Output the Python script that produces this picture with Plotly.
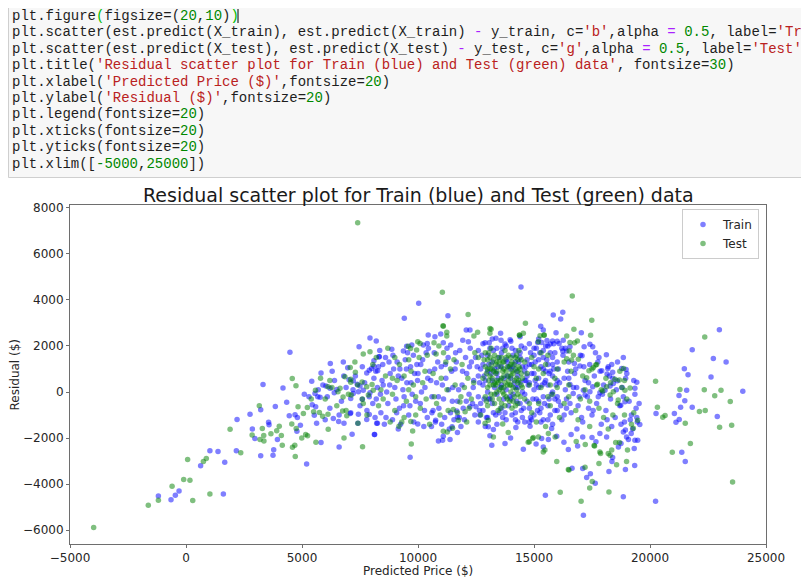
import plotly.graph_objects as go

# ---------------- data (predicted price, residual) ----------------
train_points = [
    # left tail
    (-1190,-4510),(-646,-4670),(-460,-4480),(-300,-4300),(630,-3200),(1030,-2550),(1380,-2580),
    (1670,-3045),(2170,-2550),(1610,-4420),(2200,-1190),(2760,-960),(3220,-770),(3850,-630),
    (4340,-440),(2860,-1600),(2970,-2020),(3560,-1310),(3580,-1420),(3940,-2060),(3780,-2500),
    (3220,-2770),(3750,-2740),(5200,-3120),(4450,-1030),(4700,-990),(4930,-1440),(4780,-1700),
    (4800,-1100),(5440,-550),(5590,-640),(5530,-1010),(5630,-1360),(5820,-2190),(6600,-2380),
    (7160,-1830),(8120,-1840),(8220,-1360),(6350,-1150),(6580,-1280),(6810,-1360),(7080,-930),
    (7430,-960),(7410,-1350),(7790,-1190),(7900,-970),
    # upper left
    (4480,1730),(3320,330),(4180,180),(5420,470),(5820,830),(6220,1240),(6030,260),(6210,160),
    (6500,110),(5560,-60),(5680,-210),(5780,-230),(6090,-210),(6390,-30),(6780,1300),(7460,1960),
    (7930,2350),(8200,2210),(8100,1360),(6970,1050),(7790,830),(7900,950),(8000,1020),(7030,530),
    (7210,490),(7380,340),(7500,260),(7640,80),(7210,-60),(7430,10),(7100,-280),(7600,-310),
    (7930,-30),(8320,1530),(8100,1120),(8260,920),
    # upper middle
    (14440,4560),(10030,3850),(9410,3200),(11290,3310),(10980,2520),(10730,2400),(10440,2470),
    (12080,2690),(12240,2690),(12170,2180),(11930,2250),(11410,2040),(11090,2140),(10400,2110),
    (10230,2040),(9730,2040),(9510,1990),(9370,1780),(8870,1860),(8330,1530),(13560,2550),
    (13070,2140),(12890,2140),(13360,2330),(15290,2860),(15400,2690),(16240,3460),(16150,3170),
    (15950,2570),(16080,2110),(16260,2250),(13580,2250),(13970,2270),(13750,2080),(15560,2240),
    (15800,2210),(15160,2150),(15330,2150),(15700,2090),(15830,3340),
    # upper right
    (17040,2570),(17410,2070),(17530,1960),(17160,1960),(16550,1960),(16410,1780),(16240,1780),
    (18120,1620),(17070,1570),(16740,1240),(16980,1130),(17920,920),(18180,1020),(18390,860),
    (18150,780),(18780,1020),(18970,980),(19430,430),(19350,160),(19530,-500),(18590,490),
    (18420,370),(18280,260),(18060,80),(17840,-30),(17530,230),(17770,-210),(17410,10),
    (17200,-130),(17130,80),(16840,200),(16690,-60),(16550,330),(18920,-420),(18740,-570),
    # right sparse
    (22990,2700),(21820,1830),(22730,1460),(23280,1300),(21480,1010),(21640,750),(22630,650),
    (21580,80),(21250,-150),(24000,30),(21500,-380),(21320,-660),(21820,-660),(20260,-930),
    (21050,-930),(21260,-1190),(21120,-1310),(22900,-1060),(21370,-2610),(21520,-3020),(20240,-4740),
    # lower right
    (18850,-4540),(17130,-5350),(17640,-3960),(17270,-3710),(17430,-3550),(17100,-3320),
    (16640,-3310),(18230,-3450),(18940,-3360),(19340,-3190),(18360,-3010),(18390,-2840),
    (19320,-2450),(19470,-2090),(19350,-2090),(19070,-2060),(16480,-2490),(16290,-2180),
    (16880,-2340),(17100,-1950),(16600,-1840),(18640,-2380),(18750,-2230),(19560,-1410),
    (19430,-1100),(18940,-1650),(18850,-1730),(19190,-1800),(18990,-1950),(17840,-1800),
    (18130,-1950),(17670,-2160),(17500,-1970),(15490,-4480),
    # lower middle
    (9660,-2830),(8130,-1840),(8250,-1360),(9990,-1390),(10600,-900),(10760,-1220),(10880,-2120),
    (11090,-1920),(11380,-2060),(11700,-1760),(11470,-1510),(11670,-820),(11700,-1080),
    (12240,-640),(12500,-640),(12670,-1000),(13180,-2310),(13750,-2230),(13990,-1990),
    (13100,-1900),(13030,-1510),(13250,-1630),(14220,-1540),(14540,-2480),(14830,-1480),
    (15090,-2250),(15400,-2380),(15620,-2060),(15330,-2020),(15980,-1920),(15760,-1580),(11060,-2090),
    # 5000-8000 band
    (5300,-200),(5900,300),(6200,-700),(6400,500),(6700,-400),(6900,200),(7100,-900),(7300,700),
    (7500,-600),(7700,400),(7900,-200),(6000,-1200),(6600,-1000),(7200,100),(7800,-800),
    (5700,100),(6300,900),(7600,1100),(5100,-100),(6800,700),
    # 8000-10000 band
    (8100,600),(8200,-300),(8300,1100),(8400,-900),(8500,300),(8600,1500),(8700,-500),(8800,800),
    (8900,-1200),(9000,200),(9100,1300),(9200,-700),(9300,600),(9400,-200),(9500,1000),(9600,-1000),
    (9700,400),(9800,1600),(9900,-400),(8350,1800),(8650,0),(8950,1000),(9250,-1400),(9550,1700),
    (9850,800),(8150,-1100),(8450,500),(8750,1300),(9050,-300),(9350,100),(9650,-600),(9950,1200),
    (8250,200),(8550,-1400),(9150,700),(9450,1400),(9750,-100),
    (8050,-500),(8180,900),(8380,-100),(8480,1200),(8620,-1100),(8780,300),(8920,1600),(9080,-900),
    (9220,1000),(9380,-600),(9520,400),(9680,1100),(9820,-1300),(9980,500),(9150,-1600),
    # 10000-12500 band
    (10000,800),(10100,-500),(10200,1400),(10300,200),(10400,-1100),(10500,900),(10600,-200),
    (10700,1700),(10800,400),(10900,-700),(11000,1100),(11100,-300),(11200,600),(11300,1500),
    (11400,-900),(11500,200),(11600,1000),(11700,-400),(11800,1800),(11900,300),(12000,-1200),
    (12100,800),(12200,-100),(12300,1300),(12400,500),(10150,0),(10450,1900),(10750,-1300),
    (11050,300),(11350,-1600),(11650,1300),(11950,-700),(12250,1900),(10250,-1500),(10550,500),
    (10850,1300),(11150,-1100),(11450,900),(11750,100),(12050,1500),(12350,-500),(10650,-800),
    (11250,1900),(11850,-1500),(12450,-1000),
    (10120,1200),(10280,-800),(10420,600),(10580,-1500),(10720,1000),(10880,-200),(11020,-1400),
    (11180,1200),(11320,100),(11480,-400),(11620,1700),(11780,-1100),(11920,900),(12080,-400),
    (12220,1100),(12380,200),(12480,1500),(10350,1700),(11550,-1200),
    # 12500-16000 dense band
    (12600,-1300),(12600,-200),(12600,700),(12600,1800),(12800,-800),(12800,300),(12800,1200),
    (12800,2100),(13000,-1100),(13000,0),(13000,900),(13000,1600),(13200,-500),(13200,500),
    (13200,1300),(13200,2300),(13400,-1400),(13400,-100),(13400,800),(13400,1900),(13600,-700),
    (13600,300),(13600,1100),(13600,1700),(13800,-1200),(13800,100),(13800,1400),(13800,2000),
    (14000,-300),(14000,600),(14000,1000),(14000,2200),(14200,-900),(14200,200),(14200,1300),
    (14200,1800),(14400,-500),(14400,400),(14400,1500),(14400,2400),(14600,-1300),(14600,-100),
    (14600,900),(14600,1900),(14800,-700),(14800,400),(14800,1200),(14800,2100),(15000,-1000),
    (15000,100),(15000,800),(15000,1600),(15200,-400),(15200,600),(15200,1400),(15200,2300),
    (15400,-1200),(15400,-200),(15400,1000),(15400,1800),(15600,-600),(15600,300),(15600,1200),
    (15600,2000),(15800,-1400),(15800,0),(15800,700),(15800,1500),(16000,-800),(16000,500),
    (16000,1300),(16000,2200),
    (12700,-500),(12700,1000),(12900,500),(12900,-1500),(13100,1900),(13100,-300),(13300,200),
    (13300,1000),(13500,-900),(13500,1500),(13700,600),(13700,-300),(13900,1100),(13900,-600),
    (14100,1600),(14100,-100),(14300,700),(14300,-1300),(14500,1100),(14500,0),(14700,1400),
    (14700,-400),(14900,-1200),(14900,800),(15100,1900),(15100,300),(15300,-700),(15300,1100),
    (15500,500),(15500,2000),(15700,-1000),(15700,900),(15900,1700),(15900,-300),
    (12650,400),(12850,-300),(13050,1200),(13250,-900),(13450,600),(13650,-1100),(13850,700),
    (14050,-1000),(14250,900),(14450,-800),(14650,500),(14850,-1100),(15050,1300),(15250,-900),
    (15450,400),(15650,-300),(15850,1000),(16050,-400),
    (12550,1100),(12650,-800),(12750,1600),(12850,700),(12950,-1100),(13050,-300),(13150,800),
    (13250,1800),(13350,-1000),(13450,1100),(13550,200),(13650,1900),(13750,-900),(13850,1300),
    (13950,-200),
    (14050,1900),(14150,400),(14250,-400),(14350,1300),(14450,2000),(14550,-700),(14650,1100),
    (14750,300),(14850,1700),(14950,-300),(15050,500),(15150,-800),(15250,1700),(15350,300),
    (15450,-500),(15550,1400),(15650,800),(15750,-100),(15850,2100),(15950,300),(16050,1000),
    (16150,-600),(16250,1600),(16350,100),(16450,900),(14100,1100),(14300,200),(14500,-1100),
    (14700,700),(14900,1200),(15100,-300),(15300,-1300),(15500,900),(15700,1700),(15900,-800),
    (16100,400),(16300,-1000),(16500,600),(14200,-1200),(14400,1700),(14600,500),(14800,-1300),
    (15000,1900),(15200,200),(15400,1500),(15600,-1200),(15800,1200),(16000,-200),(16200,1900),
    (16400,-700),
    # 16000-19500 band
    (16200,-1200),(16300,600),(16400,-300),(16500,1300),(16600,-900),(16700,200),(16800,1000),
    (16900,-600),(17000,1600),(17100,-1300),(17200,500),(17300,-200),(17400,1200),(17500,-1000),
    (17600,700),(17700,-500),(17800,1500),(17900,-1400),(18000,300),(18100,-800),(18200,1100),
    (18300,-300),(18400,600),(18500,-1100),(18600,1300),(18700,-600),(18800,200),(18900,-1300),
    (19000,800),(19100,-400),(19200,-1000),(19300,500),(19400,-700),(16350,1900),(16850,-1600),
    (17350,-700),(17850,900),(18350,-1500),(18850,1500),(19250,-1600),
    (16550,-500),(16750,800),(16950,-200),(17150,1100),(17350,400),(17550,-800),(17750,1300),
    (17950,-100),(18150,-1200),(18350,1200),(18550,100),(18750,-1400),(18950,600),(19150,-1200),
    (19350,-100),(17050,-1100),(17650,1700),(18250,700),(18850,-200),(19450,-1300),
]

test_points = [
    # left tail
    (-3980,-5880),(-1625,-4913),(-1190,-4700),(-600,-4090),(-100,-3800),(170,-3830),(290,-4710),
    (1030,-4420),(70,-2930),(750,-3010),(875,-2885),(2360,-2640),(1900,-1610),(3160,-600),
    (4830,-640),(2850,-1870),(3190,-2060),(3360,-2120),(3350,-1890),(3290,-1580),(3660,-1815),
    (3910,-1685),(4020,-1480),(4110,-1890),(4150,-2310),(4590,-2400),(4690,-2310),(4710,-2800),
    (4560,-1390),(4750,-1580),(4990,-2000),(5160,-1840),(5240,-1900),(5230,-670),(5060,-930),
    (5500,-860),(5750,-890),(5890,-1050),(5600,-2180),(6130,-1610),(6810,-1990),(7610,-2370),
    (6120,-960),(6930,-1030),(6750,-820),(7410,-1350),
    # upper left
    (4580,590),(4740,270),(5580,80),(6120,230),(6290,200),(6640,160),(6550,10),(6770,-220),
    (7280,1300),(7080,1070),(7300,860),(6850,660),(7100,560),(7640,1650),(7100,430),(7590,440),
    (7790,230),(8020,330),(7120,-130),(7860,-130),(8070,80),(7640,-500),(7400,7350),
    # upper middle
    (11050,4330),(12160,3370),(11080,2880),(11240,2590),(11240,2430),(12570,2590),(12410,2430),
    (10690,2140),(10780,1650),(9990,2180),(10090,2110),(9580,1990),(9680,1890),(9940,1820),
    (7930,1750),(13150,2720),(13100,2550),(14630,2980),(14540,2550),(14370,2470),(15440,2470),
    (15190,2180),(16410,2430),(11090,2860),(16720,2720),(17440,2460),(13100,2760),(15260,2440),
    (15430,2460),(14380,2460),(16550,2150),(16650,4170),(17490,3110),
    # upper right
    (16870,2210),(16750,2140),(16520,1780),(16910,1420),(16620,1390),(16410,1440),(17560,1070),
    (17660,1170),(17370,920),(17270,620),(18860,1020),(20240,470),(20320,-660),(18680,520),
    (18490,550),(18780,200),(18920,80),(19140,180),(17740,340),(17960,40),(18130,230),(18420,10),
    (18280,-130),(18630,-350),
    # right sparse
    (22360,2390),(21290,110),(22340,100),(23060,80),(22790,-160),(23460,-410),(22130,-840),
    (22380,-800),(20650,-1020),(20550,-1090),(21520,-1360),(23000,-1530),(23520,-1440),
    (21740,-2230),(20960,-2610),(23560,-3900),
    # lower right
    (18230,-4340),(17030,-4740),(17400,-4170),(17510,-3880),(16510,-3380),(17200,-3260),
    (16130,-4350),(17800,-3100),(18560,-3160),(18990,-3010),(18280,-2740),(17870,-2670),
    (19030,-2520),(16820,-2150),(17210,-2280),(17610,-2340),(18520,-2190),(18680,-2190),
    (19280,-1570),(19470,-1220),(17590,-2320),(17840,-2600),(18200,-2670),(18350,-2520),
    # lower middle
    (9710,-2250),(9180,-1480),(9690,-1280),(9770,-1690),(11090,-1700),(11260,-1730),(11490,-1570),
    (11740,-1220),(11810,-430),(12030,-860),(11520,-760),(13250,-1950),(12890,-1360),(13030,-1220),
    (13650,-1390),(13890,-1760),(14800,-2160),(14970,-1970),(15190,-1950),(15400,-2600),
    (15470,-2520),(15980,-3010),(16480,-3360),(15620,-1800),(15910,-1950),(14750,-2180),(14940,-2020),
    # 5000-8000 band
    (5400,-300),(6000,-300),(6500,-600),(7000,-100),(7400,300),(7800,-1000),(6200,500),(6900,-800),
    (7600,-300),(5800,600),
    # 8000-10000 band
    (8050,1200),(8300,-600),(8600,700),(8900,-100),(9200,1200),(9500,-400),(9800,300),(8400,100),
    (8800,-1300),(9100,500),(9400,-1100),(9700,900),(8200,1500),(9000,-800),(9600,1400),(9900,-200),
    (8700,1900),(9300,-1300),(8500,-300),(9000,1500),(9400,700),(9900,-1000),(8900,600),(9600,100),
    # 10000-12500 band
    (10050,1500),(10350,-300),(10650,800),(10950,-1000),(11250,100),(11550,1400),(11850,-200),
    (12150,600),(12450,1700),(10200,400),(10800,-500),(11400,1000),(12000,200),(10500,-1400),
    (11100,1700),(11700,-900),(12300,-300),(10900,2000),
    (10300,900),(10700,-200),(11000,600),(11300,-800),(11600,300),(11900,1200),(12200,-700),
    (12400,400),(10100,-700),(10400,1600),(11200,1300),(12100,-1300),
    # dense core
    (12800,600),(12900,1100),(13000,200),(13000,1400),(13100,700),(13200,-300),(13200,1000),
    (13300,400),(13300,1600),(13400,900),(13500,100),(13500,1300),(13600,600),(13600,-500),
    (13700,1000),(13700,200),(13800,1500),(13800,-200),(13900,700),(14000,300),(14000,1200),
    (14100,-400),(14100,800),(14200,1500),(14300,400),(14300,-100),(14400,1000),(14500,600),
    (14600,1300),(14600,-300),(13150,1900),(13450,-800),(13750,1800),(14050,-700),(14350,1800),
    (12950,-400),(13350,1200),(13650,1300),(13950,1100),(14250,100),
    (13050,500),(13150,1200),(13250,300),(13350,800),(13450,1500),(13550,500),(13650,900),
    (13750,400),(13850,1100),(13950,300),(14050,900),(14150,1200),(14250,600),(14350,1100),
    (14450,300),(13100,1000),(13400,0),(13700,700),(14000,1500),(14300,900),
    (12850,1400),(12900,-200),(12950,800),(13000,-600),(13050,1700),(13100,300),(13150,-100),
    (13200,600),(13250,1400),(13300,-500),(13350,300),(13400,1300),(13450,400),(13500,-300),
    (13550,1100),(13600,1500),(13650,0),(13700,1300),(13750,-600),(13800,900),(13850,300),
    (13900,1600),(13950,-400),(14000,700),(14050,1300),(14100,200),(14150,-200),(14200,1000),
    (14250,1600),(14300,-500),(14350,500),(14400,-200),(14450,1400),(14500,200),(12900,1700),
    (13250,900),(13550,-700),(13850,-300),(14150,500),(14450,800),(13000,1000),(13300,-100),
    (13600,200),(13900,500),(14200,-600),(13100,1500),(13400,500),(13700,-100),(14000,0),(14300,1400),
    (14800,300),(15000,1100),(15200,-500),(15400,800),(15600,1600),(15800,-100),(16000,1000),
    (14900,-900),(15300,1700),(15700,300),(12600,1500),(12700,-1000),(15100,-1300),(15500,-1500),
    (14700,800),(14900,1500),(15100,600),(15300,200),(15500,1200),(15700,-600),(15900,600),
    (16100,-1100),(16300,1300),(16500,-200),(14800,-500),(15200,1000),(15600,-200),(16000,200),
    # 16000-19500 band
    (16300,-500),(16600,900),(16900,-1200),(17200,100),(17500,1000),(17800,-700),(18100,600),
    (18400,-1000),(18700,900),(19000,-300),(19300,-900),(16500,300),(17000,-300),(17700,300),
    (18200,-1600),(18900,-1000),(17400,-1500),(16700,1600),
    (16800,-800),(17100,700),(17400,-400),(17700,1200),(18000,-1100),(18300,400),(18600,-500),
    (18900,500),(19200,-1400),(17900,100),
]

series_names = ["Train", "Test"]
series_colors = ["#0000ff", "#008000"]

x_ticks = [-5000, 0, 5000, 10000, 15000, 20000, 25000]
x_tick_text = ["\u22125000", "0", "5000", "10000", "15000", "20000", "25000"]
y_ticks = [-6000, -4000, -2000, 0, 2000, 4000, 6000, 8000]
y_tick_text = ["\u22126000", "\u22124000", "\u22122000", "0", "2000", "4000", "6000", "8000"]

title_text = "Residual scatter plot for Train (blue) and Test (green) data"
x_label = "Predicted Price ($)"
y_label = "Residual ($)"

# ---------------- layout helpers ----------------
# The page body has an 8px margin, so the figure is drawn 8px smaller and
# every page-pixel position is converted to paper coordinates of the plot area.
OFF = 8
W, H = 809 - OFF, 577 - OFF
L, R, T, B = 70, 766, 205, 544          # plot-area edges in page pixels


def PX(px):
    return (px - L) / (R - L)


def PY(py):
    return (B - py) / (B - T)


fig = go.Figure()
for name, pts, col in zip(series_names, [train_points, test_points], series_colors):
    fig.add_trace(go.Scatter(
        x=[p[0] for p in pts], y=[p[1] for p in pts], mode="markers", name=name,
        marker=dict(color=col, size=5.5, opacity=0.5, line=dict(width=0)),
    ))

axis_common = dict(showline=True, linecolor="#6e6e6e", linewidth=1, mirror=True,
                   ticks="outside", ticklen=3, tickcolor="#6e6e6e", showgrid=False,
                   zeroline=False, tickfont=dict(family="DejaVu Sans", size=12, color="#262626"))

fig.update_xaxes(range=[-5000, 25000], tickvals=x_ticks, ticktext=x_tick_text, **axis_common)
fig.update_yaxes(range=[-6595, 8117], tickvals=y_ticks, ticktext=y_tick_text, **axis_common)

# ---------------- notebook code cell ----------------
BLACK = "#1e1e1e"
STR = "#ba2121"
NUM = "#008800"
OP = "#aa22ff"
MATCH = "#00bb00"


def s(t, c):
    return '<span style="color:%s">%s</span>' % (c, t)


code_lines = [
    "plt.figure" + s("(", MATCH) + "figsize=(" + s("20", NUM) + "," + s("10", NUM) + ")" + s(")", MATCH),
    "plt.scatter(est.predict(X_train), est.predict(X_train) " + s("-", OP) + " y_train, c=" + s("'b'", STR)
    + ",alpha " + s("=", OP) + " " + s("0.5", NUM) + ", label=" + s("'Train'", STR) + ")",
    "plt.scatter(est.predict(X_test), est.predict(X_test) " + s("-", OP) + " y_test, c=" + s("'g'", STR)
    + ",alpha " + s("=", OP) + " " + s("0.5", NUM) + ", label=" + s("'Test'", STR) + ")",
    "plt.title(" + s("'Residual scatter plot for Train (blue) and Test (green) data'", STR) + ", fontsize=" + s("30", NUM) + ")",
    "plt.xlabel(" + s("'Predicted Price ($)'", STR) + ",fontsize=" + s("20", NUM) + ")",
    "plt.ylabel(" + s("'Residual ($)'", STR) + ",fontsize=" + s("20", NUM) + ")",
    "plt.legend(fontsize=" + s("20", NUM) + ")",
    "plt.xticks(fontsize=" + s("20", NUM) + ")",
    "plt.yticks(fontsize=" + s("20", NUM) + ")",
    "plt.xlim([" + s("-5000", NUM) + "," + s("25000", NUM) + "])",
]

CODE_X = 9.5            # page px where code text starts (figure starts at 8)
CODE_Y0, CODE_DY = 16, 16.4

shapes = [
    dict(type="rect", xref="paper", yref="paper", x0=PX(8.5), x1=PX(830), y0=PY(-10), y1=PY(177.5),
         fillcolor="#f7f7f7", line=dict(color="#cfcfcf", width=1), layer="below"),
    dict(type="line", xref="paper", yref="paper", x0=PX(238), x1=PX(238), y0=PY(9), y1=PY(23),
         line=dict(color="#000000", width=1)),
]

annotations = []
for i, line in enumerate(code_lines):
    annotations.append(dict(
        text=line, xref="paper", yref="paper", x=PX(CODE_X), y=PY(CODE_Y0 + i * CODE_DY),
        xanchor="left", yanchor="middle", showarrow=False,
        font=dict(family="Liberation Mono", size=14, color=BLACK),
    ))

annotations += [
    dict(text=title_text, xref="paper", yref="paper", x=PX(418), y=PY(195), xanchor="center",
         yanchor="middle", showarrow=False, font=dict(family="DejaVu Sans", size=19, color="#1a1a1a")),
    dict(text=x_label, xref="paper", yref="paper", x=PX(418), y=PY(571), xanchor="center",
         yanchor="middle", showarrow=False, font=dict(family="DejaVu Sans", size=12, color="#262626")),
    dict(text=y_label, xref="paper", yref="paper", x=PX(14), y=PY(374.5), xanchor="center",
         yanchor="middle", textangle=-90, showarrow=False,
         font=dict(family="DejaVu Sans", size=12, color="#262626")),
]

fig.update_layout(
    width=W, height=H,
    margin=dict(l=L - OFF, r=(W + OFF) - R, t=T - OFF, b=(H + OFF) - B, autoexpand=False),
    paper_bgcolor="white", plot_bgcolor="white",
    shapes=shapes, annotations=annotations,
    showlegend=True,
    legend=dict(x=PX(759), y=PY(209), xanchor="right", yanchor="top",
                bordercolor="#cccccc", borderwidth=1, bgcolor="rgba(255,255,255,0.8)",
                font=dict(family="DejaVu Sans", size=12, color="#262626"),
                itemwidth=30, tracegroupgap=0),
)

fig.write_html("out.html")
